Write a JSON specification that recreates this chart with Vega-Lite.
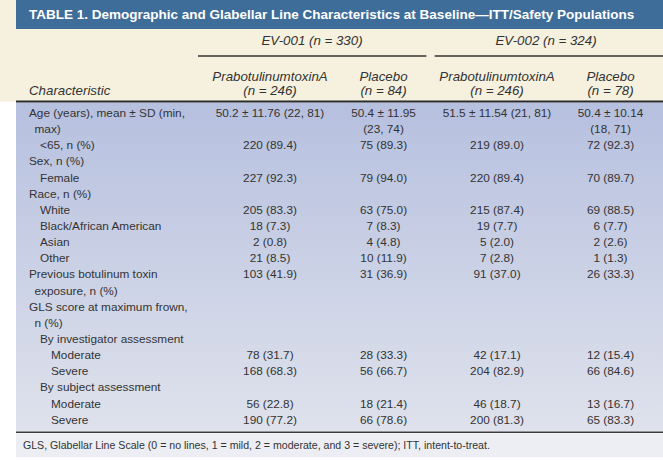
{
  "$schema": "https://vega.github.io/schema/vega-lite/v6.json",
  "width": 663,
  "height": 460,
  "autosize": {"type": "none"},
  "padding": 0,
  "background": "white",
  "config": {"view": {"stroke": null}, "text": {"font": "Liberation Sans"}},
  "datasets": {
    "rows": [
      {"line": 1, "level": 0, "label": "Age (years), mean ± SD (min,", "c1": "50.2 ± 11.76 (22, 81)", "c2": "50.4 ± 11.95", "c3": "51.5 ± 11.54 (21, 81)", "c4": "50.4 ± 10.14"},
      {"line": 2, "level": 0.5, "label": "max)", "c2": "(23, 74)", "c4": "(18, 71)"},
      {"line": 3, "level": 1, "label": "<65, n (%)", "c1": "220 (89.4)", "c2": "75 (89.3)", "c3": "219 (89.0)", "c4": "72 (92.3)"},
      {"line": 4, "level": 0, "label": "Sex, n (%)"},
      {"line": 5, "level": 1, "label": "Female", "c1": "227 (92.3)", "c2": "79 (94.0)", "c3": "220 (89.4)", "c4": "70 (89.7)"},
      {"line": 6, "level": 0, "label": "Race, n (%)"},
      {"line": 7, "level": 1, "label": "White", "c1": "205 (83.3)", "c2": "63 (75.0)", "c3": "215 (87.4)", "c4": "69 (88.5)"},
      {"line": 8, "level": 1, "label": "Black/African American", "c1": "18 (7.3)", "c2": "7 (8.3)", "c3": "19 (7.7)", "c4": "6 (7.7)"},
      {"line": 9, "level": 1, "label": "Asian", "c1": "2 (0.8)", "c2": "4 (4.8)", "c3": "5 (2.0)", "c4": "2 (2.6)"},
      {"line": 10, "level": 1, "label": "Other", "c1": "21 (8.5)", "c2": "10 (11.9)", "c3": "7 (2.8)", "c4": "1 (1.3)"},
      {"line": 11, "level": 0, "label": "Previous botulinum toxin", "c1": "103 (41.9)", "c2": "31 (36.9)", "c3": "91 (37.0)", "c4": "26 (33.3)"},
      {"line": 12, "level": 0.5, "label": "exposure, n (%)"},
      {"line": 13, "level": 0, "label": "GLS score at maximum frown,"},
      {"line": 14, "level": 0.5, "label": "n (%)"},
      {"line": 15, "level": 1, "label": "By investigator assessment"},
      {"line": 16, "level": 2, "label": "Moderate", "c1": "78 (31.7)", "c2": "28 (33.3)", "c3": "42 (17.1)", "c4": "12 (15.4)"},
      {"line": 17, "level": 2, "label": "Severe", "c1": "168 (68.3)", "c2": "56 (66.7)", "c3": "204 (82.9)", "c4": "66 (84.6)"},
      {"line": 18, "level": 1, "label": "By subject assessment"},
      {"line": 19, "level": 2, "label": "Moderate", "c1": "56 (22.8)", "c2": "18 (21.4)", "c3": "46 (18.7)", "c4": "13 (16.7)"},
      {"line": 20, "level": 2, "label": "Severe", "c1": "190 (77.2)", "c2": "66 (78.6)", "c3": "200 (81.3)", "c4": "65 (83.3)"}
    ],
    "arms": [
      {"col": "c1", "arm": "PrabotulinumtoxinA", "n": "(n = 246)"},
      {"col": "c2", "arm": "Placebo", "n": "(n = 84)"},
      {"col": "c3", "arm": "PrabotulinumtoxinA", "n": "(n = 246)"},
      {"col": "c4", "arm": "Placebo", "n": "(n = 78)"}
    ],
    "studies": [
      {"study": "EV-001 (n = 330)"},
      {"study": "EV-002 (n = 324)"}
    ],
    "notes": [
      {"title": "TABLE 1. Demographic and Glabellar Line Characteristics at Baseline—ITT/Safety Populations", "head": "Characteristic", "note": "GLS, Glabellar Line Scale (0 = no lines, 1 = mild, 2 = moderate, and 3 = severe); ITT, intent-to-treat."}
    ]
  },
  "resolve": {"scale": {"x": "independent"}},
  "layer": [
    {
      "data": {"name": "notes"},
      "mark": {"type": "rect", "fill": "#f6f1df"},
      "encoding": {
        "x": {"datum": 0, "type": "quantitative", "scale": {"domain": [0, 1], "range": [0, 663]}, "axis": null},
        "x2": {"datum": 1},
        "y": {"datum": -6, "type": "quantitative", "scale": {"domain": [-6, 22.5], "reverse": true, "nice": false, "zero": false}, "axis": null},
        "y2": {"datum": 0.3}
      }
    },
    {
      "data": {"name": "notes"},
      "mark": {"type": "rect", "fill": "#3e6d99"},
      "encoding": {
        "x": {"datum": 0, "type": "quantitative", "scale": {"domain": [0, 1], "range": [16, 663]}, "axis": null},
        "x2": {"datum": 1},
        "y": {"datum": -6, "type": "quantitative", "scale": {"domain": [-6, 22.5], "reverse": true, "nice": false, "zero": false}, "axis": null},
        "y2": {"datum": -4.2}
      }
    },
    {
      "data": {"name": "notes"},
      "mark": {"type": "rect", "fill": {"gradient": "linear", "x1": 0, "y1": 0, "x2": 0, "y2": 1, "stops": [{"offset": 0, "color": "#b6c0df"}, {"offset": 1, "color": "#dfe2ec"}]}},
      "encoding": {
        "x": {"datum": 0, "type": "quantitative", "scale": {"domain": [0, 1], "range": [16, 663]}, "axis": null},
        "x2": {"datum": 1},
        "y": {"datum": 0.35, "type": "quantitative", "scale": {"domain": [-6, 22.5], "reverse": true, "nice": false, "zero": false}, "axis": null},
        "y2": {"datum": 20.74}
      }
    },
    {
      "data": {"name": "notes"},
      "mark": {"type": "rect", "fill": "#eceef3"},
      "encoding": {
        "x": {"datum": 0, "type": "quantitative", "scale": {"domain": [0, 1], "range": [16, 663]}, "axis": null},
        "x2": {"datum": 1},
        "y": {"datum": 20.84, "type": "quantitative", "scale": {"domain": [-6, 22.5], "reverse": true, "nice": false, "zero": false}, "axis": null},
        "y2": {"datum": 22.33}
      }
    },
    {
      "data": {"name": "notes"},
      "mark": {"type": "rule", "stroke": "#2b2b2b", "strokeWidth": 2.2},
      "encoding": {
        "x": {"datum": 0, "type": "quantitative", "scale": {"domain": [0, 1], "range": [16, 663]}, "axis": null},
        "x2": {"datum": 1},
        "y": {"datum": 0.29, "type": "quantitative", "scale": {"domain": [-6, 22.5], "reverse": true, "nice": false, "zero": false}, "axis": null}
      }
    },
    {
      "data": {"name": "notes"},
      "mark": {"type": "rule", "stroke": "#3a3a3a", "strokeWidth": 1.5},
      "encoding": {
        "x": {"datum": 0, "type": "quantitative", "scale": {"domain": [0, 1], "range": [16, 663]}, "axis": null},
        "x2": {"datum": 1},
        "y": {"datum": 20.78, "type": "quantitative", "scale": {"domain": [-6, 22.5], "reverse": true, "nice": false, "zero": false}, "axis": null}
      }
    },
    {
      "data": {"name": "studies"},
      "mark": {"type": "rect", "fill": "#333333"},
      "encoding": {
        "x": {"field": "study", "type": "nominal", "scale": {"type": "band", "range": [198, 663], "paddingInner": 0.035, "paddingOuter": 0}, "axis": null},
        "y": {"datum": -2.575, "type": "quantitative", "scale": {"domain": [-6, 22.5], "reverse": true, "nice": false, "zero": false}, "axis": null},
        "y2": {"datum": -2.485}
      }
    },
    {
      "data": {"name": "studies"},
      "mark": {"type": "text", "fontStyle": "italic", "fontSize": 13.3, "color": "#333333", "align": "center", "baseline": "middle"},
      "encoding": {
        "x": {"field": "study", "type": "nominal", "scale": {"type": "point", "range": [312, 546], "padding": 0}, "axis": null},
        "y": {"datum": -3.46, "type": "quantitative", "scale": {"domain": [-6, 22.5], "reverse": true, "nice": false, "zero": false}, "axis": null},
        "text": {"field": "study"}
      }
    },
    {
      "data": {"name": "arms"},
      "mark": {"type": "text", "fontStyle": "italic", "fontSize": 13.3, "color": "#333333", "align": "center", "baseline": "middle"},
      "encoding": {
        "x": {"field": "col", "type": "nominal", "scale": {"type": "point", "domain": ["c1", "c2", "c3", "c4"], "range": [270, 610.5], "padding": 0}, "axis": null},
        "y": {"datum": -1.23, "type": "quantitative", "scale": {"domain": [-6, 22.5], "reverse": true, "nice": false, "zero": false}, "axis": null},
        "text": {"field": "arm"}
      }
    },
    {
      "data": {"name": "arms"},
      "mark": {"type": "text", "fontStyle": "italic", "fontSize": 13.3, "color": "#333333", "align": "center", "baseline": "middle"},
      "encoding": {
        "x": {"field": "col", "type": "nominal", "scale": {"type": "point", "domain": ["c1", "c2", "c3", "c4"], "range": [270, 610.5], "padding": 0}, "axis": null},
        "y": {"datum": -0.36, "type": "quantitative", "scale": {"domain": [-6, 22.5], "reverse": true, "nice": false, "zero": false}, "axis": null},
        "text": {"field": "n"}
      }
    },
    {
      "data": {"name": "notes"},
      "mark": {"type": "text", "fontStyle": "italic", "fontSize": 13.3, "color": "#333333", "align": "left", "baseline": "middle"},
      "encoding": {
        "x": {"datum": 0, "type": "quantitative", "scale": {"domain": [0, 2], "range": [29, 51]}, "axis": null},
        "y": {"datum": -0.36, "type": "quantitative", "scale": {"domain": [-6, 22.5], "reverse": true, "nice": false, "zero": false}, "axis": null},
        "text": {"field": "head"}
      }
    },
    {
      "data": {"name": "notes"},
      "mark": {"type": "text", "fontWeight": "bold", "fontSize": 13.5, "color": "#ffffff", "align": "left", "baseline": "middle"},
      "encoding": {
        "x": {"datum": 0, "type": "quantitative", "scale": {"domain": [0, 2], "range": [29, 51]}, "axis": null},
        "y": {"datum": -5.1, "type": "quantitative", "scale": {"domain": [-6, 22.5], "reverse": true, "nice": false, "zero": false}, "axis": null},
        "text": {"field": "title"}
      }
    },
    {
      "data": {"name": "rows"},
      "mark": {"type": "text", "fontSize": 11.8, "color": "#333333", "align": "left", "baseline": "middle"},
      "encoding": {
        "x": {"field": "level", "type": "quantitative", "scale": {"domain": [0, 2], "range": [29, 51]}, "axis": null},
        "y": {"field": "line", "type": "quantitative", "scale": {"domain": [-6, 22.5], "reverse": true, "nice": false, "zero": false}, "axis": null},
        "text": {"field": "label"}
      }
    },
    {
      "data": {"name": "rows"},
      "transform": [
        {"fold": ["c1", "c2", "c3", "c4"], "as": ["col", "value"]},
        {"filter": "isValid(datum.value)"}
      ],
      "mark": {"type": "text", "fontSize": 11.8, "color": "#333333", "align": "center", "baseline": "middle"},
      "encoding": {
        "x": {"field": "col", "type": "nominal", "scale": {"type": "point", "domain": ["c1", "c2", "c3", "c4"], "range": [270, 610.5], "padding": 0}, "axis": null},
        "y": {"field": "line", "type": "quantitative", "scale": {"domain": [-6, 22.5], "reverse": true, "nice": false, "zero": false}, "axis": null},
        "text": {"field": "value"}
      }
    },
    {
      "data": {"name": "notes"},
      "mark": {"type": "text", "fontSize": 10.6, "color": "#333333", "align": "left", "baseline": "middle"},
      "encoding": {
        "x": {"datum": -0.55, "type": "quantitative", "scale": {"domain": [0, 2], "range": [29, 51]}, "axis": null},
        "y": {"datum": 21.65, "type": "quantitative", "scale": {"domain": [-6, 22.5], "reverse": true, "nice": false, "zero": false}, "axis": null},
        "text": {"field": "note"}
      }
    }
  ]
}
